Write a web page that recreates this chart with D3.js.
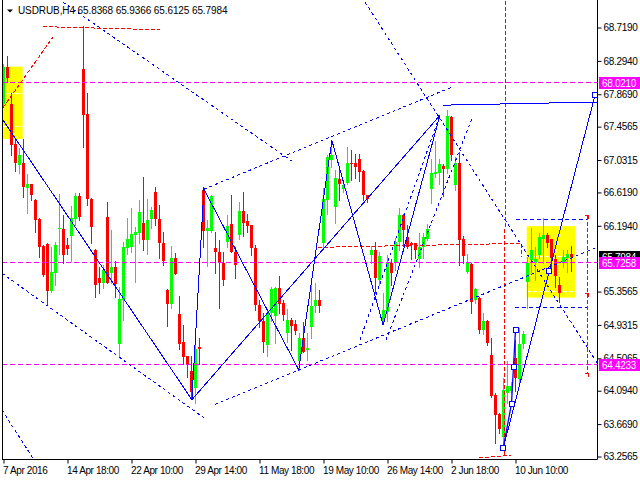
<!DOCTYPE html>
<html><head><meta charset="utf-8">
<script src="https://cdn.jsdelivr.net/npm/d3@7/dist/d3.min.js"></script>
<style>
body{margin:0;background:#fff}
svg{display:block}
text{font-family:"Liberation Sans",Arial,sans-serif;font-size:10px}
</style>
</head><body>
<svg id="c" width="640" height="480"></svg>
<script>
// ---- data ----
const symbol = "USDRUB,H4";
const openP = [67.75,68.21,67.75,67.23,66.97,66.99,66.68,66.72,66.52,66.28,
65.94,65.96,65.36,65.59,66.15,66.15,65.95,66.06,66.28,66.57,
68.19,67.62,66.54,65.89,65.53,65.47,66.31,65.59,65.67,64.69,
65.25,65.91,65.93,66.08,66.10,66.23,66.01,66.28,66.63,66.28,
65.98,65.38,65.20,65.79,65.07,64.72,64.53,64.34,64.13,64.65,
66.65,66.13,66.13,65.91,65.86,65.72,65.99,66.22,65.86,66.08,
66.38,66.26,66.20,65.91,65.19,64.98,64.68,65.08,65.05,65.40,
65.21,64.83,65.00,64.95,64.47,64.76,64.61,64.91,65.17,65.25,
65.97,66.52,67.03,66.43,66.79,66.66,66.74,67.00,67.00,67.05,
66.89,66.58,65.82,65.89,65.51,64.98,65.10,65.72,65.73,65.99,
66.33,66.05,65.98,65.97,65.77,65.93,66.03,66.66,66.85,66.87,
66.95,66.92,67.58,66.71,66.99,66.02,65.61,65.71,65.25,65.28,
64.87,64.98,64.55,64.04,63.80,63.51,64.06,64.09,64.51,64.24,
64.69,65.48,65.76,65.72,65.82,66.03,66.08,66.02,65.77,65.44,
65.72,65.78,65.8368];
const highP = [68.25,68.36,67.88,67.31,67.19,67.30,66.85,66.73,66.53,66.29,
65.95,65.97,65.92,65.99,66.60,66.33,66.04,66.45,66.61,66.61,
68.74,67.88,66.55,65.90,65.67,65.70,66.50,66.14,65.74,65.42,
65.99,66.29,66.42,66.18,66.52,66.82,66.54,66.43,66.69,66.46,
66.11,65.39,65.94,65.85,65.30,64.93,64.54,64.53,64.77,64.76,
66.66,66.27,66.58,66.12,66.01,65.86,66.33,66.59,65.93,66.50,
66.63,66.35,66.21,65.95,65.25,65.08,65.12,65.42,65.42,65.55,
65.25,65.13,65.02,65.00,64.83,64.97,64.83,65.48,65.47,65.38,
66.67,67.09,67.28,66.90,66.94,66.77,67.20,67.16,67.11,67.11,
66.90,66.59,65.94,65.99,65.86,65.34,65.82,65.77,66.04,66.42,
66.34,66.20,65.99,65.98,66.10,66.10,66.22,67.05,67.28,67.05,
66.98,67.67,67.59,67.07,67.13,66.06,65.84,65.72,65.40,65.29,
65.08,65.00,64.76,64.07,63.81,64.26,64.47,64.21,64.74,64.89,
64.86,65.80,66.17,65.93,66.10,66.29,66.10,66.03,65.82,65.54,
65.89,65.89,65.9366];
const lowP = [67.71,68.02,67.09,66.89,66.87,66.56,66.36,66.52,66.11,65.80,
65.56,65.19,65.35,65.44,65.84,65.72,65.84,65.75,66.20,66.27,
67.20,66.46,65.97,65.29,65.34,65.40,65.46,65.46,65.29,64.53,
64.99,65.84,65.86,65.48,65.98,65.88,65.84,66.17,66.20,65.79,
65.70,64.92,65.15,65.58,64.62,64.44,64.27,64.01,63.94,64.44,
65.93,65.68,66.12,65.59,65.15,65.44,65.93,65.86,65.53,66.02,
66.06,66.12,65.82,65.12,64.91,64.59,64.53,64.98,64.70,65.08,
65.00,64.72,64.61,64.81,64.36,64.59,64.49,64.76,65.10,65.10,
65.91,66.35,66.94,66.23,66.52,66.63,66.73,66.78,66.80,66.77,
66.52,66.50,65.72,65.34,65.44,64.95,64.98,65.44,65.63,65.89,
65.94,65.91,65.77,65.78,65.67,65.78,66.01,66.48,66.81,66.73,
66.57,66.86,67.03,66.65,65.70,65.72,65.59,65.08,65.21,64.83,
64.81,64.68,64.02,63.43,63.56,63.39,63.94,64.07,64.09,64.21,
64.64,65.15,65.61,65.51,65.78,65.72,65.93,65.59,65.42,65.23,
65.67,65.61,65.6125];
const closeP = [68.21,68.08,67.22,66.99,67.09,66.69,66.73,66.58,66.27,65.93,
65.57,65.36,65.60,65.95,66.17,65.82,65.90,66.29,66.57,66.30,
67.61,66.54,66.18,65.44,65.47,65.63,65.47,65.67,65.45,65.26,
65.92,66.02,66.09,66.12,66.37,66.01,66.27,66.39,66.28,65.98,
65.74,65.20,65.79,65.58,64.69,64.52,64.44,64.08,64.62,64.62,
66.13,66.16,66.57,65.86,65.72,65.51,66.19,65.86,65.70,66.38,
66.23,66.19,65.91,65.19,64.98,64.71,65.08,65.39,65.40,65.20,
65.06,65.00,64.92,64.86,64.76,64.59,64.64,65.17,65.25,65.17,
66.54,67.07,67.09,66.80,66.72,66.71,66.99,66.98,66.94,66.88,
66.58,66.53,65.89,65.53,65.81,65.12,65.72,65.59,65.99,66.33,
66.14,65.93,65.95,65.89,65.93,66.05,66.15,66.87,66.88,66.98,
66.92,67.59,67.09,66.99,66.01,65.81,65.72,65.23,65.39,64.87,
64.98,64.70,64.03,63.79,63.61,64.10,64.15,64.15,64.26,64.69,
64.81,65.72,65.89,65.77,66.05,66.08,65.97,65.78,65.55,65.34,
65.80,65.84,65.7984];
const timeTickIdx = [0,16,32,48,64,80,96,112,128];
const timeLabels = ["7 Apr 2016","14 Apr 18:00","22 Apr 10:00","29 Apr 14:00","11 May 18:00","19 May 10:00","26 May 14:00","2 Jun 18:00","10 Jun 10:00"];
const priceTicks = [68.7190,68.2940,67.8690,67.4565,67.0315,66.6190,66.1940,65.3565,64.9315,64.5065,64.0940,63.6690,63.2565];
const levelPrices = [68.0210,65.7258,64.4233];
const lastPrice = 65.7984;
// analysis objects, as [barIndex, price] pairs
const zigzag = [[-0.4,67.56],[47.1,63.98],[50.1,66.66],[73.8,64.36],[82.1,67.28],[94.9,64.93],[109.1,67.60]];
const trendSolid = [[[47.1,63.98],[109.1,67.60]],[[109.9,67.73],[148.4,67.77]],[[124.95,63.37],[147.9,67.86]]];
const forecast = [[124.95,63.37],[127.0,63.93],[127.5,64.40],[128.0,64.87]];
const squares = [[124.95,63.37],[127.0,63.93],[127.5,64.40],[128.0,64.87],[136.45,65.62],[147.9,67.86]];
const dotted = [
  [[14.9,69.04],[72.6,67.00]],
  [[50.1,66.66],[112.1,67.96]],
  [[90.4,69.04],[148.4,64.45]],
  [[-0.4,65.59],[50.1,63.75]],
  [[-0.4,63.85],[7.4,63.23]],
  [[52.9,63.92],[148.4,65.92]],
  [[89.1,64.74],[109.1,67.60]],
  [[95.6,64.74],[117.1,67.56]]
];
const dashedBlue = [[[128.1,66.27],[145.9,66.27]],[[127.9,65.16],[145.9,65.16]]];
const redDashed = [
  [[9.9,68.73],[39.1,68.69]],
  [[-0.1,67.70],[12.4,68.60]],
  [[125.5,69.06],[125.25,63.27]],
  [[118.9,63.24],[126.9,63.27]],
  [[78.6,65.92],[129.4,65.97],[129.4,65.80]],
  [[145.9,66.32],[145.9,64.31]]
];
const redStubs = [66.32,65.33,64.31];
const boxes = [[-0.2,4.8,68.22,67.30],[130.8,142.9,66.19,65.28]];
const boxLines = [[-0.2,4.8,67.88],[-0.2,4.8,67.46],[130.8,142.9,65.80],[130.8,142.9,65.36]];

// ---- drawing ----
const svg = d3.select("#c");
const plotL = 2, plotR = 597, plotB = 459;
const x = d3.scaleLinear().domain([0,142]).range([3.5,571.5]);
const y = d3.scaleLinear().domain([63.2565,68.7190]).range([456.5,27.5]);
const row = v => Math.floor(y(v))+0.5;

svg.append("defs").append("clipPath").attr("id","clip")
  .append("rect").attr("x",plotL).attr("y",0).attr("width",plotR-plotL).attr("height",plotB);
const g = svg.append("g").attr("clip-path","url(#clip)");
const line = d3.line().x(d=>x(d[0])).y(d=>y(d[1]));

// yellow rectangles
g.selectAll("rect.box").data(boxes).join("rect").attr("class","box")
  .attr("x",d=>x(d[0])).attr("width",d=>x(d[1])-x(d[0]))
  .attr("y",d=>y(d[2])).attr("height",d=>y(d[3])-y(d[2]))
  .attr("fill","#ffff00");
g.selectAll("line.bl").data(boxLines).join("line").attr("class","bl")
  .attr("x1",d=>x(d[0])).attr("x2",d=>x(d[1]))
  .attr("y1",d=>row(d[2])).attr("y2",d=>row(d[2]))
  .attr("stroke","#fff").attr("stroke-dasharray","4,2");

// candles
const bars = d3.range(openP.length).map(i=>({i,o:openP[i],h:highP[i],l:lowP[i],c:closeP[i]}));
const col = d=> d.c>=d.o ? "#00ff00" : "#ff0000";
g.selectAll("line.wick").data(bars).join("line").attr("class","wick")
  .attr("x1",d=>x(d.i)).attr("x2",d=>x(d.i))
  .attr("y1",d=>Math.round(y(d.h))).attr("y2",d=>Math.round(y(d.l))+1)
  .attr("stroke",col).attr("shape-rendering","crispEdges");
g.selectAll("rect.body").data(bars).join("rect").attr("class","body")
  .attr("x",d=>x(d.i)-1.5).attr("width",3)
  .attr("y",d=>Math.round(y(Math.max(d.o,d.c))))
  .attr("height",d=>Math.max(1,Math.round(y(Math.min(d.o,d.c)))-Math.round(y(Math.max(d.o,d.c)))))
  .attr("fill",col).attr("shape-rendering","crispEdges");

// magenta levels
g.selectAll("line.lvl").data(levelPrices).join("line").attr("class","lvl")
  .attr("x1",plotL).attr("x2",plotR)
  .attr("y1",d=>row(d)).attr("y2",d=>row(d))
  .attr("stroke","#ff00ff").attr("stroke-dasharray","5,3").attr("shape-rendering","crispEdges");

// red dashed objects
g.selectAll("path.red").data(redDashed).join("path").attr("class","red")
  .attr("d",line).attr("fill","none").attr("stroke","#ff0000")
  .attr("stroke-dasharray","4,2").attr("shape-rendering","crispEdges");
g.selectAll("path.stub").data(redStubs).join("path").attr("class","stub")
  .attr("d",d=>`M${x(145.3)},${row(d)}H${x(146.3)}V${row(d)+3.5}`)
  .attr("fill","none").attr("stroke","#ff0000").attr("shape-rendering","crispEdges");

// blue dotted / dashed
g.selectAll("path.dot").data(dotted).join("path").attr("class","dot")
  .attr("d",line).attr("fill","none").attr("stroke","#0000ff")
  .attr("stroke-dasharray","3,3").attr("shape-rendering","crispEdges");
g.selectAll("path.dash").data(dashedBlue).join("path").attr("class","dash")
  .attr("d",line).attr("fill","none").attr("stroke","#0000ff")
  .attr("stroke-dasharray","4,3").attr("shape-rendering","crispEdges");

// blue solid
g.append("path").attr("d",line(zigzag)).attr("fill","none").attr("stroke","#0000ff").attr("shape-rendering","crispEdges");
g.selectAll("path.ts").data(trendSolid).join("path").attr("class","ts")
  .attr("d",line).attr("fill","none").attr("stroke","#0000ff").attr("shape-rendering","crispEdges");
g.append("path").attr("d",line(forecast)).attr("fill","none").attr("stroke","#0000ff").attr("stroke-width",1.3);
g.selectAll("rect.sq").data(squares).join("rect").attr("class","sq")
  .attr("x",d=>Math.round(x(d[0]))-2.5).attr("y",d=>Math.round(y(d[1]))-2.5)
  .attr("width",5).attr("height",5).attr("fill","#fff").attr("stroke","#0000ff")
  .attr("shape-rendering","crispEdges");

// frame
svg.append("line").attr("x1",plotL+0.5).attr("x2",plotL+0.5).attr("y1",0).attr("y2",plotB+0.5).attr("stroke","#000");
svg.append("line").attr("x1",plotL).attr("x2",plotR+0.5).attr("y1",plotB+0.5).attr("y2",plotB+0.5).attr("stroke","#000");
svg.append("line").attr("x1",plotR+0.5).attr("x2",plotR+0.5).attr("y1",0).attr("y2",plotB+0.5).attr("stroke","#000");

// price axis
const ya = d3.axisRight(y).tickValues(priceTicks).tickFormat(d3.format(".4f")).tickSize(4).tickSizeOuter(0).tickPadding(2);
const yg = svg.append("g").attr("transform",`translate(${plotR+0.5},0)`).call(ya);
yg.select(".domain").remove();
yg.selectAll("text").attr("fill","#000").style("font-size","10px").style("letter-spacing","-0.3px");
yg.selectAll("line").attr("stroke","#000");

// time axis
const xa = d3.axisBottom(x).tickValues(timeTickIdx).tickFormat((d,k)=>timeLabels[k]).tickSize(4).tickSizeOuter(0);
const xg = svg.append("g").attr("transform",`translate(0,${plotB+0.5})`).call(xa);
xg.select(".domain").remove();
xg.selectAll("line").attr("stroke","#000");
xg.selectAll("text").attr("text-anchor","start").attr("dx",-1).attr("y",7)
  .attr("fill","#000").style("font-size","10px").style("letter-spacing","-0.4px");

// price labels at the right
function tag(p,bg){
  const yy=Math.floor(row(p));
  svg.append("rect").attr("x",599).attr("y",yy-5).attr("width",41).attr("height",12).attr("fill",bg);
  svg.append("text").attr("x",602).attr("y",yy+1).attr("dy","0.35em").attr("fill","#fff")
    .style("font-size","10px").style("letter-spacing","-0.3px").text(d3.format(".4f")(p));
}
tag(lastPrice,"#000");
levelPrices.forEach(p=>tag(p,"#ff00ff"));

// title
svg.append("path").attr("d","M7,9.5H13L10,12.5Z").attr("fill","#000");
svg.append("text").attr("x",18).attr("y",14).attr("fill","#000").style("letter-spacing","-0.1px")
  .text(`${symbol}  ${d3.format(".4f")(openP[142])} ${d3.format(".4f")(highP[142])} ${d3.format(".4f")(lowP[142])} ${d3.format(".4f")(closeP[142])}`);
</script>
</body></html>
